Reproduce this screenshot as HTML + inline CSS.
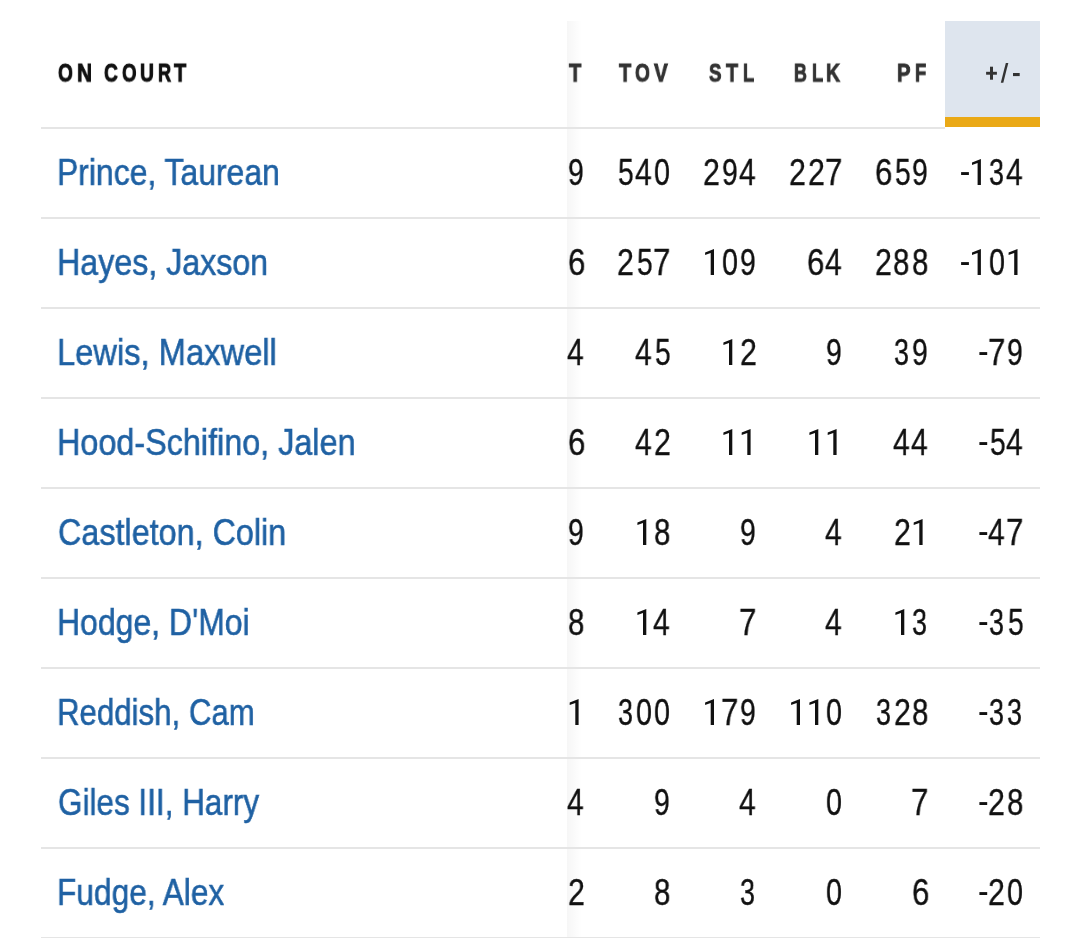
<!DOCTYPE html>
<html><head><meta charset="utf-8"><style>
html,body{margin:0;padding:0;background:#fff;width:1080px;height:938px;overflow:hidden;position:relative;font-family:"Liberation Sans",sans-serif;}
.t{position:absolute;white-space:nowrap;line-height:1;will-change:transform;}
.nm{color:#1f61a3;font-size:36.5px;transform-origin:0 0;-webkit-text-stroke:0.55px currentColor;}
.num{color:#111111;font-size:36.5px;-webkit-text-stroke:0.35px currentColor;transform-origin:0 0;}
.g{font-size:26.7px;font-weight:bold;transform-origin:0 0;-webkit-text-stroke:1.0px currentColor;}
.ln{position:absolute;left:41px;width:999px;height:2px;background:#e5e5e5;}
</style></head><body>

<div style="position:absolute;left:945px;top:21px;width:95px;height:96px;background:#dee5ee"></div>
<div style="position:absolute;left:945px;top:116.5px;width:95px;height:10.5px;background:#eaa916"></div>
<div style="position:absolute;left:567px;top:21px;width:15px;height:917px;background:linear-gradient(to right,rgba(0,0,0,0.035),rgba(0,0,0,0))"></div>
<div class="ln" style="top:127px;width:904px"></div>
<div class="ln" style="top:217px"></div>
<div class="ln" style="top:307px"></div>
<div class="ln" style="top:397px"></div>
<div class="ln" style="top:487px"></div>
<div class="ln" style="top:577px"></div>
<div class="ln" style="top:667px"></div>
<div class="ln" style="top:757px"></div>
<div class="ln" style="top:847px"></div>
<div class="ln" style="top:937px"></div>
<div class="t g" style="left:58.18px;top:59.98px;color:#111111;transform:scale(0.7158,0.9750)">O</div>
<div class="t g" style="left:76.92px;top:59.98px;color:#111111;transform:scale(0.7824,0.9750)">N</div>
<div class="t g" style="left:103.88px;top:59.98px;color:#111111;transform:scale(0.7167,0.9750)">C</div>
<div class="t g" style="left:121.90px;top:59.98px;color:#111111;transform:scale(0.7000,0.9750)">O</div>
<div class="t g" style="left:140.38px;top:59.98px;color:#111111;transform:scale(0.7235,0.9750)">U</div>
<div class="t g" style="left:158.22px;top:59.98px;color:#111111;transform:scale(0.6833,0.9750)">R</div>
<div class="t g" style="left:174.40px;top:59.98px;color:#111111;transform:scale(0.7471,0.9750)">T</div>
<div class="t g" style="left:569.00px;top:59.68px;color:#333333;transform:scale(0.7529,0.9750)">T</div>
<div class="t g" style="left:619.20px;top:59.68px;color:#333333;transform:scale(0.7471,0.9750)">T</div>
<div class="t g" style="left:635.38px;top:59.68px;color:#333333;transform:scale(0.7158,0.9750)">O</div>
<div class="t g" style="left:653.90px;top:59.68px;color:#333333;transform:scale(0.7722,0.9750)">V</div>
<div class="t g" style="left:709.20px;top:59.68px;color:#333333;transform:scale(0.7000,0.9750)">S</div>
<div class="t g" style="left:725.80px;top:59.68px;color:#333333;transform:scale(0.7353,0.9750)">T</div>
<div class="t g" style="left:742.61px;top:59.68px;color:#333333;transform:scale(0.6867,0.9750)">L</div>
<div class="t g" style="left:794.03px;top:59.68px;color:#333333;transform:scale(0.6667,0.9750)">B</div>
<div class="t g" style="left:811.51px;top:59.68px;color:#333333;transform:scale(0.6867,0.9750)">L</div>
<div class="t g" style="left:826.47px;top:59.68px;color:#333333;transform:scale(0.7278,0.9750)">K</div>
<div class="t g" style="left:896.94px;top:59.68px;color:#333333;transform:scale(0.7562,0.9750)">P</div>
<div class="t g" style="left:914.51px;top:59.68px;color:#333333;transform:scale(0.6933,0.9750)">F</div>
<svg style="position:absolute;left:0;top:0" width="1080" height="130"><g fill="#333333"><rect x="986.1" y="71.8" width="10.8" height="2.9"/><rect x="990.0" y="66.7" width="3.0" height="13.0"/><polygon points="1000.8,82.8 1003.3,82.8 1008.3,63 1005.8,63"/><rect x="1013" y="73" width="6.7" height="3.1"/></g></svg>
<div class="t nm" style="left:57.38px;top:155.00px;transform:scaleX(0.8736)">Prince, Taurean</div>
<div class="t num" style="left:568.23px;top:155.00px;transform:scaleX(0.7722)">9</div>
<div class="t num" style="left:654.22px;top:155.00px;transform:scaleX(0.7833)">0</div>
<div class="t num" style="left:635.18px;top:155.00px;transform:scaleX(0.8211)">4</div>
<div class="t num" style="left:618.33px;top:155.00px;transform:scaleX(0.7722)">5</div>
<div class="t num" style="left:739.48px;top:155.00px;transform:scaleX(0.8211)">4</div>
<div class="t num" style="left:721.93px;top:155.00px;transform:scaleX(0.7722)">9</div>
<div class="t num" style="left:703.27px;top:155.00px;transform:scaleX(0.8278)">2</div>
<div class="t num" style="left:824.99px;top:155.00px;transform:scaleX(0.8559)">7</div>
<div class="t num" style="left:807.57px;top:155.00px;transform:scaleX(0.8278)">2</div>
<div class="t num" style="left:789.27px;top:155.00px;transform:scaleX(0.8278)">2</div>
<div class="t num" style="left:912.23px;top:155.00px;transform:scaleX(0.7722)">9</div>
<div class="t num" style="left:894.63px;top:155.00px;transform:scaleX(0.7722)">5</div>
<div class="t num" style="left:874.99px;top:155.00px;transform:scaleX(0.8559)">6</div>
<div class="t num" style="left:1006.38px;top:155.00px;transform:scaleX(0.8211)">4</div>
<div class="t num" style="left:988.86px;top:155.00px;transform:scaleX(0.7389)">3</div>
<div class="t nm" style="left:56.65px;top:245.00px;transform:scaleX(0.8821)">Hayes, Jaxson</div>
<div class="t num" style="left:567.59px;top:245.00px;transform:scaleX(0.8559)">6</div>
<div class="t num" style="left:652.99px;top:245.00px;transform:scaleX(0.8559)">7</div>
<div class="t num" style="left:636.63px;top:245.00px;transform:scaleX(0.7722)">5</div>
<div class="t num" style="left:617.27px;top:245.00px;transform:scaleX(0.8278)">2</div>
<div class="t num" style="left:740.23px;top:245.00px;transform:scaleX(0.7722)">9</div>
<div class="t num" style="left:721.92px;top:245.00px;transform:scaleX(0.7833)">0</div>
<div class="t num" style="left:825.48px;top:245.00px;transform:scaleX(0.8211)">4</div>
<div class="t num" style="left:807.29px;top:245.00px;transform:scaleX(0.8559)">6</div>
<div class="t num" style="left:911.69px;top:245.00px;transform:scaleX(0.8056)">8</div>
<div class="t num" style="left:893.39px;top:245.00px;transform:scaleX(0.8056)">8</div>
<div class="t num" style="left:875.27px;top:245.00px;transform:scaleX(0.8278)">2</div>
<div class="t num" style="left:988.82px;top:245.00px;transform:scaleX(0.7833)">0</div>
<div class="t nm" style="left:57.31px;top:335.00px;transform:scaleX(0.8958)">Lewis, Maxwell</div>
<div class="t num" style="left:567.48px;top:335.00px;transform:scaleX(0.8211)">4</div>
<div class="t num" style="left:654.93px;top:335.00px;transform:scaleX(0.7722)">5</div>
<div class="t num" style="left:635.18px;top:335.00px;transform:scaleX(0.8211)">4</div>
<div class="t num" style="left:739.87px;top:335.00px;transform:scaleX(0.8278)">2</div>
<div class="t num" style="left:826.23px;top:335.00px;transform:scaleX(0.7722)">9</div>
<div class="t num" style="left:912.23px;top:335.00px;transform:scaleX(0.7722)">9</div>
<div class="t num" style="left:893.96px;top:335.00px;transform:scaleX(0.7389)">3</div>
<div class="t num" style="left:1007.13px;top:335.00px;transform:scaleX(0.7722)">9</div>
<div class="t num" style="left:987.59px;top:335.00px;transform:scaleX(0.8559)">7</div>
<div class="t nm" style="left:57.34px;top:425.00px;transform:scaleX(0.8864)">Hood-Schifino, Jalen</div>
<div class="t num" style="left:567.59px;top:425.00px;transform:scaleX(0.8559)">6</div>
<div class="t num" style="left:653.87px;top:425.00px;transform:scaleX(0.8278)">2</div>
<div class="t num" style="left:635.18px;top:425.00px;transform:scaleX(0.8211)">4</div>
<div class="t num" style="left:911.48px;top:425.00px;transform:scaleX(0.8211)">4</div>
<div class="t num" style="left:893.18px;top:425.00px;transform:scaleX(0.8211)">4</div>
<div class="t num" style="left:1006.38px;top:425.00px;transform:scaleX(0.8211)">4</div>
<div class="t num" style="left:989.53px;top:425.00px;transform:scaleX(0.7722)">5</div>
<div class="t nm" style="left:57.53px;top:515.00px;transform:scaleX(0.8858)">Castleton, Colin</div>
<div class="t num" style="left:568.23px;top:515.00px;transform:scaleX(0.7722)">9</div>
<div class="t num" style="left:653.69px;top:515.00px;transform:scaleX(0.8056)">8</div>
<div class="t num" style="left:740.23px;top:515.00px;transform:scaleX(0.7722)">9</div>
<div class="t num" style="left:825.48px;top:515.00px;transform:scaleX(0.8211)">4</div>
<div class="t num" style="left:893.57px;top:515.00px;transform:scaleX(0.8278)">2</div>
<div class="t num" style="left:1005.89px;top:515.00px;transform:scaleX(0.8559)">7</div>
<div class="t num" style="left:988.08px;top:515.00px;transform:scaleX(0.8211)">4</div>
<div class="t nm" style="left:57.37px;top:605.00px;transform:scaleX(0.8758)">Hodge, D'Moi</div>
<div class="t num" style="left:567.69px;top:605.00px;transform:scaleX(0.8056)">8</div>
<div class="t num" style="left:653.48px;top:605.00px;transform:scaleX(0.8211)">4</div>
<div class="t num" style="left:738.99px;top:605.00px;transform:scaleX(0.8559)">7</div>
<div class="t num" style="left:825.48px;top:605.00px;transform:scaleX(0.8211)">4</div>
<div class="t num" style="left:912.26px;top:605.00px;transform:scaleX(0.7389)">3</div>
<div class="t num" style="left:1007.83px;top:605.00px;transform:scaleX(0.7722)">5</div>
<div class="t num" style="left:988.86px;top:605.00px;transform:scaleX(0.7389)">3</div>
<div class="t nm" style="left:57.43px;top:695.00px;transform:scaleX(0.8553)">Reddish, Cam</div>
<div class="t num" style="left:654.22px;top:695.00px;transform:scaleX(0.7833)">0</div>
<div class="t num" style="left:635.92px;top:695.00px;transform:scaleX(0.7833)">0</div>
<div class="t num" style="left:617.66px;top:695.00px;transform:scaleX(0.7389)">3</div>
<div class="t num" style="left:740.23px;top:695.00px;transform:scaleX(0.7722)">9</div>
<div class="t num" style="left:720.69px;top:695.00px;transform:scaleX(0.8559)">7</div>
<div class="t num" style="left:826.22px;top:695.00px;transform:scaleX(0.7833)">0</div>
<div class="t num" style="left:911.69px;top:695.00px;transform:scaleX(0.8056)">8</div>
<div class="t num" style="left:893.57px;top:695.00px;transform:scaleX(0.8278)">2</div>
<div class="t num" style="left:875.66px;top:695.00px;transform:scaleX(0.7389)">3</div>
<div class="t num" style="left:1007.16px;top:695.00px;transform:scaleX(0.7389)">3</div>
<div class="t num" style="left:988.86px;top:695.00px;transform:scaleX(0.7389)">3</div>
<div class="t nm" style="left:58.44px;top:785.00px;transform:scaleX(0.8621)">Giles III, Harry</div>
<div class="t num" style="left:567.48px;top:785.00px;transform:scaleX(0.8211)">4</div>
<div class="t num" style="left:654.23px;top:785.00px;transform:scaleX(0.7722)">9</div>
<div class="t num" style="left:739.48px;top:785.00px;transform:scaleX(0.8211)">4</div>
<div class="t num" style="left:826.22px;top:785.00px;transform:scaleX(0.7833)">0</div>
<div class="t num" style="left:910.99px;top:785.00px;transform:scaleX(0.8559)">7</div>
<div class="t num" style="left:1006.59px;top:785.00px;transform:scaleX(0.8056)">8</div>
<div class="t num" style="left:988.47px;top:785.00px;transform:scaleX(0.8278)">2</div>
<div class="t nm" style="left:57.40px;top:875.00px;transform:scaleX(0.8677)">Fudge, Alex</div>
<div class="t num" style="left:567.87px;top:875.00px;transform:scaleX(0.8278)">2</div>
<div class="t num" style="left:653.69px;top:875.00px;transform:scaleX(0.8056)">8</div>
<div class="t num" style="left:740.26px;top:875.00px;transform:scaleX(0.7389)">3</div>
<div class="t num" style="left:826.22px;top:875.00px;transform:scaleX(0.7833)">0</div>
<div class="t num" style="left:911.59px;top:875.00px;transform:scaleX(0.8559)">6</div>
<div class="t num" style="left:1007.12px;top:875.00px;transform:scaleX(0.7833)">0</div>
<div class="t num" style="left:988.47px;top:875.00px;transform:scaleX(0.8278)">2</div>
<svg style="position:absolute;left:0;top:0" width="1080" height="938"><g fill="#111111"><polygon points="980.90,159.00 980.90,185.00 977.60,185.00 977.60,162.90 972.00,165.10 972.00,162.40"/><polygon points="714.00,249.00 714.00,275.00 710.70,275.00 710.70,252.90 705.10,255.10 705.10,252.40"/><polygon points="1017.50,249.00 1017.50,275.00 1014.20,275.00 1014.20,252.90 1008.60,255.10 1008.60,252.40"/><polygon points="980.90,249.00 980.90,275.00 977.60,275.00 977.60,252.90 972.00,255.10 972.00,252.40"/><polygon points="732.30,339.00 732.30,365.00 729.00,365.00 729.00,342.90 723.40,345.10 723.40,342.40"/><polygon points="750.60,429.00 750.60,455.00 747.30,455.00 747.30,432.90 741.70,435.10 741.70,432.40"/><polygon points="732.30,429.00 732.30,455.00 729.00,455.00 729.00,432.90 723.40,435.10 723.40,432.40"/><polygon points="836.60,429.00 836.60,455.00 833.30,455.00 833.30,432.90 827.70,435.10 827.70,432.40"/><polygon points="818.30,429.00 818.30,455.00 815.00,455.00 815.00,432.90 809.40,435.10 809.40,432.40"/><polygon points="646.30,519.00 646.30,545.00 643.00,545.00 643.00,522.90 637.40,525.10 637.40,522.40"/><polygon points="922.60,519.00 922.60,545.00 919.30,545.00 919.30,522.90 913.70,525.10 913.70,522.40"/><polygon points="646.30,609.00 646.30,635.00 643.00,635.00 643.00,612.90 637.40,615.10 637.40,612.40"/><polygon points="904.30,609.00 904.30,635.00 901.00,635.00 901.00,612.90 895.40,615.10 895.40,612.40"/><polygon points="578.60,699.00 578.60,725.00 575.30,725.00 575.30,702.90 569.70,705.10 569.70,702.40"/><polygon points="714.00,699.00 714.00,725.00 710.70,725.00 710.70,702.90 705.10,705.10 705.10,702.40"/><polygon points="818.30,699.00 818.30,725.00 815.00,725.00 815.00,702.90 809.40,705.10 809.40,702.40"/><polygon points="800.00,699.00 800.00,725.00 796.70,725.00 796.70,702.90 791.10,705.10 791.10,702.40"/><rect x="961.10" y="172.10" width="7.8" height="2.9"/><rect x="961.10" y="262.10" width="7.8" height="2.9"/><rect x="979.40" y="352.10" width="7.8" height="2.9"/><rect x="979.40" y="442.10" width="7.8" height="2.9"/><rect x="979.40" y="532.10" width="7.8" height="2.9"/><rect x="979.40" y="622.10" width="7.8" height="2.9"/><rect x="979.40" y="712.10" width="7.8" height="2.9"/><rect x="979.40" y="802.10" width="7.8" height="2.9"/><rect x="979.40" y="892.10" width="7.8" height="2.9"/></g></svg>
</body></html>
